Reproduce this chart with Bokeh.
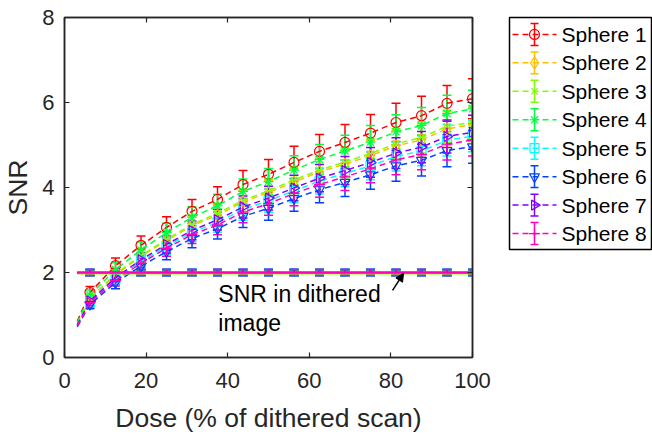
import numpy as np
from bokeh.plotting import figure
from bokeh.layouts import row
from bokeh.models import (ColumnDataSource, Whisker, TeeHead, Range1d, LinearAxis,
                          FixedTicker, Arrow, NormalHead, Label)
from bokeh.core.properties import value
from bokeh.embed import file_html
from bokeh.resources import INLINE

# ---------------- data ----------------
dose = [3.125, 6.25, 12.5, 18.75, 25, 31.25, 37.5, 43.75, 50, 56.25,
        62.5, 68.75, 75, 81.25, 87.5, 93.75, 100]

snr_s1 = [0.85, 1.53, 2.16, 2.64, 3.06, 3.44, 3.72, 4.07, 4.31, 4.59, 4.85, 5.06, 5.28, 5.53, 5.69, 5.98, 6.09]
snr_s2 = [0.79, 1.38, 1.94, 2.38, 2.75, 3.10, 3.35, 3.66, 3.88, 4.13, 4.37, 4.55, 4.75, 4.98, 5.12, 5.38, 5.48]
snr_s3 = [0.80, 1.39, 1.97, 2.40, 2.78, 3.13, 3.39, 3.70, 3.92, 4.18, 4.41, 4.60, 4.80, 5.03, 5.18, 5.44, 5.54]
snr_s4 = [0.82, 1.47, 2.07, 2.53, 2.94, 3.30, 3.57, 3.91, 4.14, 4.41, 4.66, 4.86, 5.07, 5.31, 5.46, 5.74, 5.85]
snr_s5 = [0.75, 1.31, 1.85, 2.26, 2.62, 2.94, 3.18, 3.48, 3.69, 3.92, 4.15, 4.33, 4.51, 4.73, 4.86, 5.11, 5.21]
snr_s6 = [0.72, 1.25, 1.76, 2.15, 2.49, 2.80, 3.03, 3.32, 3.51, 3.74, 3.95, 4.12, 4.30, 4.51, 4.64, 4.87, 4.96]
snr_s7 = [0.76, 1.33, 1.88, 2.30, 2.66, 2.99, 3.24, 3.54, 3.75, 3.99, 4.22, 4.40, 4.59, 4.81, 4.95, 5.20, 5.30]
snr_s8 = [0.74, 1.29, 1.81, 2.22, 2.57, 2.89, 3.12, 3.42, 3.62, 3.86, 4.07, 4.25, 4.44, 4.65, 4.78, 5.02, 5.12]

# error (half-width) at doses 6.25 ... 100
err_s1 = [0.14, 0.18, 0.22, 0.25, 0.28, 0.30, 0.33, 0.35, 0.38, 0.40, 0.42, 0.44, 0.45, 0.46, 0.42, 0.47]
err_s2 = [0.11, 0.15, 0.18, 0.20, 0.23, 0.25, 0.27, 0.29, 0.31, 0.32, 0.34, 0.35, 0.37, 0.38, 0.40, 0.40]
err_s3 = [0.10, 0.14, 0.17, 0.20, 0.22, 0.24, 0.26, 0.28, 0.30, 0.31, 0.33, 0.34, 0.36, 0.37, 0.38, 0.39]
err_s4 = [0.12, 0.16, 0.19, 0.22, 0.25, 0.27, 0.29, 0.31, 0.34, 0.35, 0.37, 0.39, 0.40, 0.42, 0.43, 0.44]
err_s5 = [0.10, 0.13, 0.16, 0.19, 0.21, 0.23, 0.25, 0.27, 0.28, 0.30, 0.31, 0.33, 0.34, 0.35, 0.37, 0.37]
err_s6 = [0.10, 0.14, 0.17, 0.19, 0.22, 0.24, 0.26, 0.28, 0.30, 0.31, 0.33, 0.34, 0.36, 0.37, 0.38, 0.39]
err_s7 = [0.10, 0.14, 0.17, 0.20, 0.22, 0.24, 0.26, 0.28, 0.30, 0.32, 0.33, 0.35, 0.36, 0.37, 0.39, 0.40]
err_s8 = [0.10, 0.13, 0.16, 0.19, 0.21, 0.23, 0.25, 0.27, 0.29, 0.30, 0.32, 0.33, 0.35, 0.36, 0.37, 0.38]

# SNR in the dithered image (one per sphere) and its error
dith_snr = [2.00, 1.98, 1.97, 1.98, 2.00, 2.00, 2.00, 2.00]
dith_err = [0.06, 0.06, 0.06, 0.06, 0.09, 0.07, 0.07, 0.07]

names = ["Sphere 1", "Sphere 2", "Sphere 3", "Sphere 4",
         "Sphere 5", "Sphere 6", "Sphere 7", "Sphere 8"]

x_ticks = [0, 20, 40, 60, 80, 100]
y_ticks = [0, 2, 4, 6, 8]

# ---------------- styles ----------------
colors = ["#FF0000", "#FFBF00", "#80FF00", "#00FF40",
          "#00FFFF", "#0040FF", "#8000FF", "#FF00BF"]
markers = ["circle", "diamond", "x", "asterisk", "square",
           "inverted_triangle", "triangle", "cross"]
m_angles = [0, 0, 0, 0, 0, 0, -np.pi / 2, 0]
m_sizes = [10, 12, 9, 10, 9, 10, 10, 11]
FONT = "Liberation Sans"
TXT = "#262626"
FIG_H = 434

snrs = [snr_s1, snr_s2, snr_s3, snr_s4, snr_s5, snr_s6, snr_s7, snr_s8]
errs = [err_s1, err_s2, err_s3, err_s4, err_s5, err_s6, err_s7, err_s8]

# ---------------- main plot ----------------
p = figure(frame_width=408, frame_height=340, output_backend="svg",
           toolbar_location=None,
           x_range=Range1d(0, 100), y_range=Range1d(0, 8),
           min_border_left=56, min_border_right=36, min_border_top=17,
           min_border_bottom=FIG_H - 17 - 340)
p.grid.visible = False
p.outline_line_color = TXT
p.outline_line_width = 1.5
p.background_fill_color = "white"

for ax in (p.xaxis[0], p.yaxis[0]):
    ax.major_tick_in = 5
    ax.major_tick_out = 0
    ax.minor_tick_line_color = None
    ax.axis_line_width = 1.5
    ax.axis_line_color = TXT
    ax.major_tick_line_color = TXT
    ax.major_tick_line_width = 1.2
    ax.major_label_text_font = FONT
    ax.major_label_text_font_size = "22px"
    ax.major_label_text_color = TXT
    ax.axis_label_text_font = FONT
    ax.axis_label_text_font_size = "26.5px"
    ax.axis_label_text_font_style = "normal"
    ax.axis_label_text_color = TXT

p.xaxis.ticker = FixedTicker(ticks=x_ticks)
p.yaxis.ticker = FixedTicker(ticks=y_ticks)
p.xaxis.axis_label = "Dose (% of dithered scan)"
p.yaxis.axis_label = "SNR"
p.xaxis.major_label_standoff = 15
p.yaxis.major_label_standoff = 10
p.xaxis.axis_label_standoff = 12
p.yaxis.axis_label_standoff = 6

for side, tk in (("above", x_ticks), ("right", y_ticks)):
    ax = LinearAxis(ticker=FixedTicker(ticks=tk),
                    major_label_overrides={t: "" for t in tk})
    ax.major_tick_in = 5
    ax.major_tick_out = 0
    ax.minor_tick_line_color = None
    ax.axis_line_width = 1.5
    ax.axis_line_color = TXT
    ax.major_tick_line_color = TXT
    ax.major_tick_line_width = 1.2
    ax.major_label_standoff = 0
    p.add_layout(ax, side)

for i in range(8):
    c = colors[i]
    src_line = ColumnDataSource(dict(x=dose, y=snrs[i]))
    yv = snrs[i][1:]
    ev = errs[i]
    src_pts = ColumnDataSource(dict(
        x=dose[1:], y=yv,
        lo=[a - b for a, b in zip(yv, ev)],
        hi=[a + b for a, b in zip(yv, ev)]))
    p.line("x", "y", source=src_line, line_color=c, line_width=1.5,
           line_dash="6 4")
    p.add_layout(Whisker(base="x", lower="lo", upper="hi", source=src_pts,
                         line_color=c, line_width=1.5,
                         lower_head=TeeHead(size=9, line_color=c, line_width=1.5),
                         upper_head=TeeHead(size=9, line_color=c, line_width=1.5)))
    p.scatter("x", "y", source=src_pts, marker=markers[i], size=m_sizes[i],
              angle=m_angles[i], line_color=c, fill_color=None, line_width=1.2)

# SNR of the dithered image
for i in range(8):
    c = colors[i]
    src_d = ColumnDataSource(dict(x=dose, y=[dith_snr[i]] * len(dose)))
    p.line("x", "y", source=src_d, line_color=c, line_width=1.5)
    src_de = ColumnDataSource(dict(
        x=dose[1:],
        lo=[dith_snr[i] - dith_err[i]] * (len(dose) - 1),
        hi=[dith_snr[i] + dith_err[i]] * (len(dose) - 1)))
    p.add_layout(Whisker(base="x", lower="lo", upper="hi", source=src_de,
                         line_color=c, line_width=1.5,
                         lower_head=TeeHead(size=9, line_color=c, line_width=1.5),
                         upper_head=TeeHead(size=9, line_color=c, line_width=1.5)))

p.add_layout(Label(x=37.7, y=1.81, text="SNR in dithered\nimage",
                   text_font=FONT, text_font_size="23px", text_color="black",
                   text_align="left", text_baseline="top", text_line_height=1.15))
p.add_layout(Arrow(end=NormalHead(size=8, fill_color="black", line_color="black"),
                   x_start=80.4, y_start=1.58, x_end=83.1, y_end=1.98,
                   line_color="black", line_width=1.5))

# ---------------- legend (separate panel) ----------------
LH = 233  # legend box height in px
leg_y = [LH - 17 - i * 28.57 for i in range(8)]
lg = figure(width=144, height=FIG_H, output_backend="svg", toolbar_location=None,
            x_range=Range1d(0, 142), y_range=Range1d(0, LH),
            min_border_left=1, min_border_right=1, min_border_top=16,
            min_border_bottom=FIG_H - 16 - LH)
lg.axis.visible = False
lg.grid.visible = False
lg.outline_line_color = "black"
lg.outline_line_width = 1.5

lsrc = ColumnDataSource(dict(
    y=leg_y, ylo=[v - 11 for v in leg_y], yhi=[v + 11 for v in leg_y],
    color=colors, marker=markers, angle=m_angles, size=m_sizes, name=names))
lg.segment(x0=3, y0="y", x1=47, y1="y", source=lsrc, line_color="color",
           line_width=1.5, line_dash="6 4")
lg.segment(x0=25, y0="ylo", x1=25, y1="yhi", source=lsrc, line_color="color",
           line_width=1.5)
lg.segment(x0=21, y0="ylo", x1=29, y1="ylo", source=lsrc, line_color="color",
           line_width=1.5)
lg.segment(x0=21, y0="yhi", x1=29, y1="yhi", source=lsrc, line_color="color",
           line_width=1.5)
lg.scatter(x=25, y="y", source=lsrc, marker="marker", angle="angle", size="size",
           line_color="color", fill_color=None, line_width=1.2)
lg.text(x=52, y="y", text="name", source=lsrc, text_font=value(FONT),
        text_font_size=value("21px"), text_color="black",
        text_baseline="middle", text_align="left")

layout = row(p, lg)
open("out.html", "w").write(file_html(layout, INLINE))
